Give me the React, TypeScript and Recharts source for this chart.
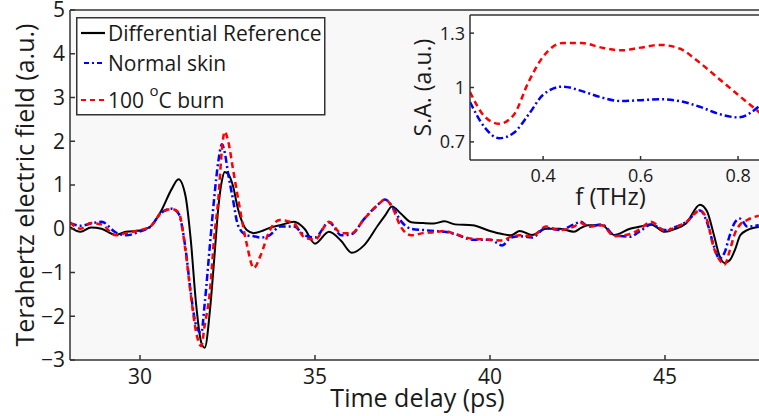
import { LineChart, Line, XAxis, YAxis, CartesianGrid, Legend, Label } from 'recharts';

// time delay (ps)
const times = [
  28.0, 28.3, 28.6, 28.9, 29.3, 29.6, 30.0, 30.3, 30.6, 30.9, 31.1, 31.3, 31.45, 31.6, 31.75, 31.85,
  32.0, 32.12, 32.24, 32.34, 32.42, 32.52, 32.65, 32.8, 33.05, 33.25, 33.45, 33.7, 34.0, 34.4, 34.7,
  35.0, 35.4, 35.75, 36.05, 36.4, 36.8, 37.0, 37.2, 37.45, 37.75, 38.1, 38.4, 38.7, 39.0, 39.5, 40.0,
  40.35, 40.6, 40.85, 41.2, 41.6, 42.0, 42.4, 42.6, 42.8, 43.2, 43.55, 44.0, 44.3, 44.6, 45.0, 45.3,
  45.6, 46.0, 46.2, 46.4, 46.55, 46.7, 46.85, 47.0, 47.15, 47.35, 47.68,
];

const refField = [
  0.04, -0.07, 0.03, 0.0, -0.14, -0.07, -0.04, 0.05, 0.4, 0.9, 1.13, 0.75, -0.25, -1.7, -2.6, -2.72,
  -1.85, -0.7, 0.5, 1.1, 1.3, 1.25, 1.0, 0.45, -0.03, -0.1, -0.06, 0.02, 0.08, 0.16, 0.0,
  -0.34, -0.07, -0.28, -0.55, -0.38, 0.08, 0.3, 0.51, 0.35, 0.15, 0.13, 0.12, 0.17, 0.1, 0.08, -0.05,
  -0.12, -0.15, -0.05, -0.14, 0.0, 0.0, -0.07, 0.02, 0.08, 0.08, -0.14, 0.0, 0.05, 0.1, -0.07, 0.0,
  0.12, 0.55, 0.4, -0.15, -0.6, -0.78, -0.72, -0.48, -0.15, -0.03, 0.04,
];

const normalField = [
  0.13, 0.07, 0.12, 0.16, -0.08, -0.15, -0.06, 0.05, 0.36, 0.46, 0.35, -0.45, -1.45, -2.2, -2.38, -1.7,
  -0.35, 0.7, 1.55, 1.93, 1.75, 1.25, 0.7, 0.08, -0.15, -0.17, -0.2, -0.15, 0.05, 0.05, -0.15,
  -0.2, 0.15, -0.15, -0.12, 0.22, 0.55, 0.67, 0.52, 0.18, 0.0, -0.03, -0.05, -0.07, -0.12, -0.25, -0.25,
  -0.38, -0.2, -0.17, -0.2, 0.02, -0.03, 0.1, 0.16, 0.05, 0.1, -0.15, -0.18, -0.05, 0.1, -0.03, 0.04,
  0.15, 0.42, 0.15, -0.4, -0.68, -0.55, -0.15, 0.15, 0.23, 0.05, 0.08,
];

const burnField = [
  0.15, 0.0, 0.13, 0.1, -0.15, -0.1, -0.03, 0.05, 0.36, 0.45, 0.38, -0.5, -1.5, -2.35, -2.68, -2.2,
  -1.41, -0.2, 0.7, 1.8, 2.22, 2.0, 1.4, 0.7, -0.35, -0.9, -0.6, -0.05, 0.2, 0.12, -0.2,
  -0.25, 0.16, -0.1, -0.1, 0.22, 0.55, 0.67, 0.5, 0.05, -0.15, -0.1, -0.08, -0.05, -0.12, -0.23, -0.25,
  -0.27, -0.18, -0.15, -0.17, 0.05, -0.03, 0.05, 0.13, 0.05, 0.08, -0.17, -0.12, 0.0, 0.16, -0.05, 0.03,
  0.15, 0.42, 0.2, -0.45, -0.7, -0.82, -0.5, -0.1, 0.1, 0.2, 0.3,
];

// inset: spectral amplitude vs frequency (THz)
const freqs = [0.25, 0.28, 0.31, 0.34, 0.37, 0.4, 0.44, 0.48, 0.52, 0.56, 0.6, 0.64, 0.68, 0.72, 0.76, 0.8, 0.845];
const normalSA = [0.92, 0.78, 0.72, 0.75, 0.85, 0.96, 1.005, 0.98, 0.945, 0.925, 0.93, 0.935, 0.925, 0.895, 0.855, 0.835, 0.9];
const burnSA = [0.975, 0.84, 0.8, 0.85, 1.03, 1.17, 1.245, 1.245, 1.22, 1.205, 1.22, 1.235, 1.215, 1.14, 1.05, 0.96, 0.86];

const timeTicks = [30, 35, 40, 45];
const fieldTicks = [-3, -2, -1, 0, 1, 2, 3, 4, 5];
const freqTicks = [0.4, 0.6, 0.8];
const saTicks = [0.7, 1, 1.3];

const mainData = times.map((t, i) => ({ t, ref: refField[i], normal: normalField[i], burn: burnField[i] }));
const insetData = freqs.map((f, i) => ({ f, normal: normalSA[i], burn: burnSA[i] }));

const FONT = '"Open Sans", sans-serif';
const TXT = '#1a1a1a';
const AX = '#333';
const BLUE_DASH = '7 3 2 3';
const RED_DASH = '6 4';

const minus = (v: number) => (v < 0 ? '\u2212' + Math.abs(v) : String(v));

const legendItems = [
  { color: '#000', dash: undefined, y: 16, x1: 5, x2: 29 },
  { color: '#0000ff', dash: '5 3 2 3', y: 46, x1: 8, x2: 26 },
  { color: '#ff0000', dash: '5 4', y: 83, x1: 5, x2: 29 },
];

function renderLegend() {
  return (
    <svg width={250} height={99} style={{ display: 'block' }}>
      <rect x={0.75} y={0.75} width={248} height={97} fill="#fff" stroke={AX} strokeWidth={1.5} />
      {legendItems.map((it, i) => (
        <line key={i} x1={it.x1} x2={it.x2} y1={it.y} y2={it.y} stroke={it.color} strokeWidth={2.2} strokeDasharray={it.dash} />
      ))}
      <g fontFamily={FONT} fontSize={21} fill={TXT}>
        <text x={32} y={16} dominantBaseline="central">Differential Reference</text>
        <text x={32} y={46} dominantBaseline="central">Normal skin</text>
        <text x={32} y={83} dominantBaseline="central">
          100 <tspan dy={-10} fontSize={15}>o</tspan><tspan dy={10}>C burn</tspan>
        </text>
      </g>
    </svg>
  );
}

function yTitle(text: string, dx: number, size: number) {
  return (props: any) => {
    const vb = props.viewBox;
    const cx = vb.x + dx;
    const cy = vb.y + vb.height / 2;
    return (
      <text x={cx} y={cy} transform={`rotate(-90 ${cx} ${cy})`} textAnchor="middle" dominantBaseline="central"
        fontFamily={FONT} fontSize={size} fill={TXT}>{text}</text>
    );
  };
}

function xTitle(text: string, dx: number, dy: number, size: number) {
  return (props: any) => {
    const vb = props.viewBox;
    return (
      <text x={vb.x + vb.width / 2 + dx} y={vb.y + dy} textAnchor="middle" fontFamily={FONT} fontSize={size} fill={TXT}>
        {text}
      </text>
    );
  };
}

export default function App() {
  return (
    <div style={{ position: 'absolute', left: 0, top: 0, width: 759, height: 416, background: '#fff', overflow: 'hidden' }}>
      <LineChart width={759} height={416} data={mainData} margin={{ top: 9, right: 0, left: 0, bottom: 0 }}>
        <CartesianGrid horizontal={false} vertical={false} fill="#f8f8f8" />
        <XAxis dataKey="t" type="number" domain={[28, 47.686]} ticks={timeTicks} allowDataOverflow height={56}
          stroke={AX} strokeWidth={1.5} tickSize={-5} tickMargin={14}
          tick={{ fontFamily: FONT, fontSize: 21, fill: TXT }}>
          <Label content={xTitle('Time delay (ps)', 3, 47, 25)} />
        </XAxis>
        <XAxis xAxisId="top" orientation="top" dataKey="t" type="number" domain={[28, 47.686]} ticks={timeTicks}
          allowDataOverflow height={1} stroke={AX} strokeWidth={1.5} tickSize={-5} tick={false} />
        <YAxis type="number" domain={[-3, 5]} ticks={fieldTicks} width={70} stroke={AX} strokeWidth={1.5}
          tickSize={-5} tickMargin={10} tickFormatter={minus} interval={0}
          tick={{ fontFamily: FONT, fontSize: 21, fill: TXT }}>
          <Label content={yTitle('Terahertz electric field (a.u.)', 24, 25)} />
        </YAxis>
        <Legend layout="vertical" align="center" verticalAlign="middle" content={renderLegend}
          wrapperStyle={{ left: 76, top: 17, width: 250, height: 99 }} />
        <Line dataKey="ref" type="monotone" stroke="#000" strokeWidth={2} dot={false} isAnimationActive={false} />
        <Line dataKey="normal" type="monotone" stroke="#0000ff" strokeWidth={2.5} strokeDasharray={BLUE_DASH} dot={false} isAnimationActive={false} />
        <Line dataKey="burn" type="monotone" stroke="#ff0000" strokeWidth={2.5} strokeDasharray={RED_DASH} dot={false} isAnimationActive={false} />
      </LineChart>

      <div style={{ position: 'absolute', left: 400, top: 0 }}>
        <LineChart width={359} height={220} data={insetData} margin={{ top: 14, right: 0, left: 0, bottom: 0 }}>
          <CartesianGrid horizontal={false} vertical={false} fill="#fff" />
          <XAxis dataKey="f" type="number" domain={[0.25, 0.843]} ticks={freqTicks} allowDataOverflow height={60}
            stroke={AX} strokeWidth={1.5} tickSize={-4} tickMargin={13}
            tick={{ fontFamily: FONT, fontSize: 18, fill: TXT }}>
            <Label content={xTitle('f (THz)', -4, 45, 24)} />
          </XAxis>
          <XAxis xAxisId="top" orientation="top" dataKey="f" type="number" domain={[0.25, 0.843]} allowDataOverflow
            height={1} stroke={AX} strokeWidth={1.5} tickLine={false} tick={false} />
          <YAxis type="number" domain={[0.6, 1.4]} ticks={saTicks} width={70} stroke={AX} strokeWidth={1.5}
            tickSize={-4} tickMargin={9} interval={0}
            tick={{ fontFamily: FONT, fontSize: 18, fill: TXT }}>
            <Label content={yTitle('S.A. (a.u.)', 22, 23)} />
          </YAxis>
          <Line dataKey="normal" type="monotone" stroke="#0000ff" strokeWidth={2.5} strokeDasharray={BLUE_DASH} dot={false} isAnimationActive={false} />
          <Line dataKey="burn" type="monotone" stroke="#ff0000" strokeWidth={2.5} strokeDasharray={RED_DASH} dot={false} isAnimationActive={false} />
        </LineChart>
      </div>
    </div>
  );
}
